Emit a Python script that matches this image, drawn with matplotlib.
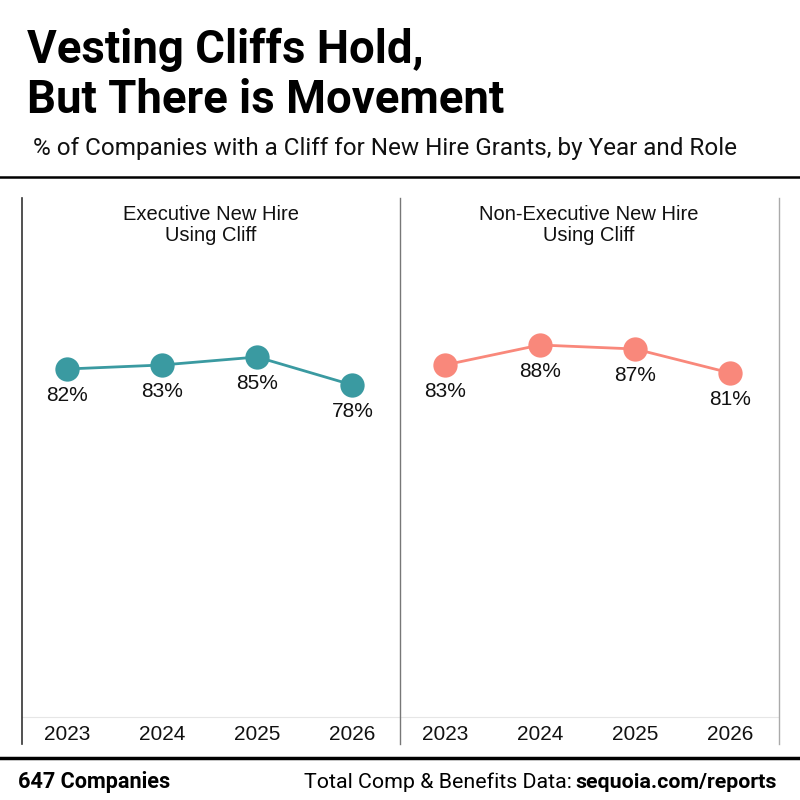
import matplotlib
matplotlib.use("Agg")
import matplotlib.pyplot as plt
from matplotlib.lines import Line2D

years = ["2023", "2024", "2025", "2026"]
exec_vals = [82, 83, 85, 78]
nonexec_vals = [83, 88, 87, 81]
panel_titles = ["Executive New Hire\nUsing Cliff", "Non-Executive New Hire\nUsing Cliff"]
colors = ["#3A9AA1", "#F9887B"]

title_lines = ["Vesting Cliffs Hold,", "But There is Movement"]
subtitle = "% of Companies with a Cliff for New Hire Grants, by Year and Role"
footer_left = "647 Companies"

W = H = 800
fig = plt.figure(figsize=(8, 8), dpi=100)
fig.patch.set_facecolor("white")

def fx(px):
    return px / W

def fy(py):
    return 1 - py / H

HF = "Roboto"
# Title & subtitle
for line, base in zip(title_lines, [63, 113]):
    fig.text(fx(27), fy(base), line, fontsize=32.8, fontweight="bold", family=HF,
             va="baseline", ha="left", color="black")
fig.text(fx(33), fy(155), subtitle, fontsize=17.5, family=HF, va="baseline",
         ha="left", color="#111111")

# Horizontal rules
fig.add_artist(Line2D([0, 1], [fy(177), fy(177)], color="black", lw=1.8, transform=fig.transFigure))
fig.add_artist(Line2D([0, 1], [fy(758), fy(758)], color="black", lw=2.5, transform=fig.transFigure))

# Footer
fig.text(fx(18), fy(788), footer_left, fontsize=15.6, fontweight="bold", family=HF,
         va="baseline", ha="left")
fig.text(fx(777), fy(788), "sequoia.com/reports", fontsize=15.4, fontweight="bold",
         family=HF, va="baseline", ha="right")
fig.canvas.draw()
r = fig.canvas.get_renderer()
t_bold = fig.texts[-1]
bb = t_bold.get_window_extent(renderer=r)
fig.text(bb.x0 / W - 0.005, fy(788), "Total Comp & Benefits Data:", fontsize=15.4, family=HF,
         va="baseline", ha="right")

# Panels
panel_left = [22, 400]
panel_w = 378
ax_top, ax_bot = 198, 717
series = [exec_vals, nonexec_vals]
ymin, ymax = -5, 124.75

for i in range(2):
    ax = fig.add_axes([fx(panel_left[i]), fy(ax_bot), panel_w / W, (ax_bot - ax_top) / H])
    ax.set_xlim(-0.47, 3.5)
    ax.set_ylim(ymin, ymax)
    x = list(range(len(years)))
    ax.plot(x, series[i], color=colors[i], lw=2, marker="o", markersize=17.5,
            markeredgewidth=0, zorder=3, clip_on=False)
    for xi, v in zip(x, series[i]):
        ax.annotate(f"{v}%", (xi, v), xytext=(0, -19), textcoords="offset points",
                    ha="center", va="center", fontsize=15, family="Liberation Sans",
                    color="#111111")
    ax.set_xticks(x)
    ax.set_xticklabels(years, fontsize=15, family="Liberation Sans")
    ax.tick_params(axis="x", length=0, pad=6, colors="#111111")
    ax.set_yticks([])
    for s in ["top", "right", "left"]:
        ax.spines[s].set_visible(False)
    ax.spines["bottom"].set_color("#e6e6e6")
    ax.spines["bottom"].set_linewidth(0.8)
    ax.text(0.5, (ax_bot - 225) / (ax_bot - ax_top), panel_titles[i], transform=ax.transAxes,
            ha="center", va="center", fontsize=14.5, family="Liberation Sans",
            linespacing=1.15, color="#111111")

# Vertical panel borders
vx = [(22, "#333333", 1.2), (400, "#777777", 1.0), (779, "#aaaaaa", 1.0)]
for px, c, lw in vx:
    fig.add_artist(Line2D([fx(px), fx(px)], [fy(198), fy(744)], color=c, lw=lw,
                          transform=fig.transFigure))

fig.savefig("out.png", dpi=100, facecolor="white")
